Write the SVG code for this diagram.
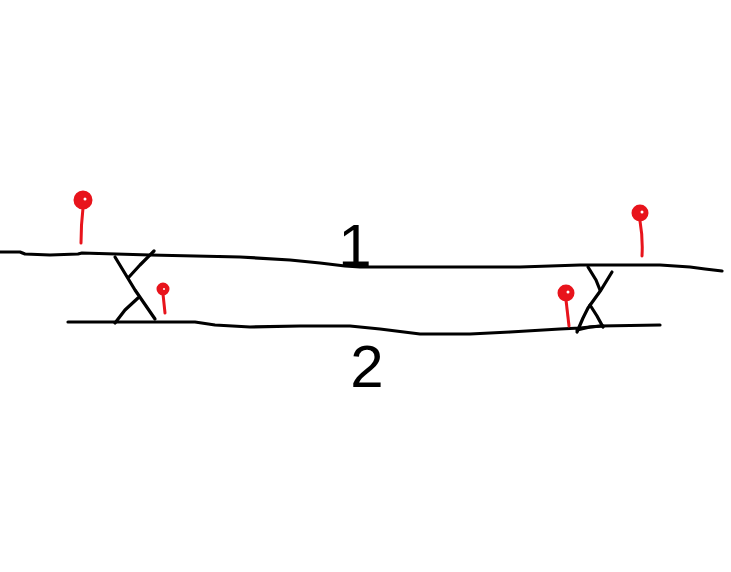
<svg xmlns="http://www.w3.org/2000/svg" width="731" height="572" viewBox="0 0 731 572">
<style>
.ln{fill:none;stroke:#000;stroke-width:3.2;stroke-linecap:round;stroke-linejoin:round}
.pin{fill:none;stroke:#e8141c;stroke-width:3;stroke-linecap:round;stroke-linejoin:round}
.head{fill:#e8141c;stroke:#e8141c;stroke-width:2}
.lbl{font-family:"Liberation Sans",Arial,sans-serif;font-size:60px;fill:#000;text-anchor:middle}
</style>
<rect width="731" height="572" fill="#fff"/>
<g id="connectors">
<polyline id="track1" class="ln" points="0,252 20,252 25,254 50,255 78,254 82,253 150,255 240,257 290,260 320,263 345,266 360,267 520,267 580,265 660,265 690,267 705,269 722,271"/>
<polyline id="track2" class="ln" points="68,322 195,322 215,325 250,327 300,326 350,326 380,329 420,334 470,334 510,332 560,329 580,328 600,326 660,325"/>
</g>
<g id="crossover-left">
<polyline class="ln" points="115,257 135,290 155,319"/>
<polyline class="ln" points="154,251 140,265 129,277"/>
<polyline class="ln" points="138,298 125,310 115,323"/>
</g>
<g id="crossover-right">
<polyline class="ln" points="588,267 596,280 600,290"/>
<polyline class="ln" points="612,272 601,290 588,308 583,318 577,332"/>
<polyline class="ln" points="590,305 597,316 603,327"/>
<polyline class="ln" points="577,330 590,327 603,326"/>
</g>
<g id="signal-1">
<path class="pin" d="M83,208 Q81,225 81,243"/>
<circle class="head" cx="83" cy="200" r="8.5"/>
<circle cx="85" cy="199" r="1.5" fill="#fff"/>
</g>
<g id="signal-2">
<path class="pin" d="M163,294 L165,313"/>
<circle class="head" cx="163" cy="289" r="5.5"/>
<circle cx="164" cy="289" r="1" fill="#fff"/>
</g>
<g id="signal-3">
<path class="pin" d="M640,221 Q643,238 642,256"/>
<circle class="head" cx="640" cy="213" r="7.5"/>
<circle cx="642" cy="212" r="1.5" fill="#fff"/>
</g>
<g id="signal-4">
<path class="pin" d="M566,300 L569,326"/>
<circle class="head" cx="566" cy="293" r="7.5"/>
<circle cx="568" cy="292" r="1.5" fill="#fff"/>
</g>
<g id="label-1"><text class="lbl" x="355" y="266">1</text></g>
<g id="label-2"><text class="lbl" x="367" y="387">2</text></g>
</svg>
